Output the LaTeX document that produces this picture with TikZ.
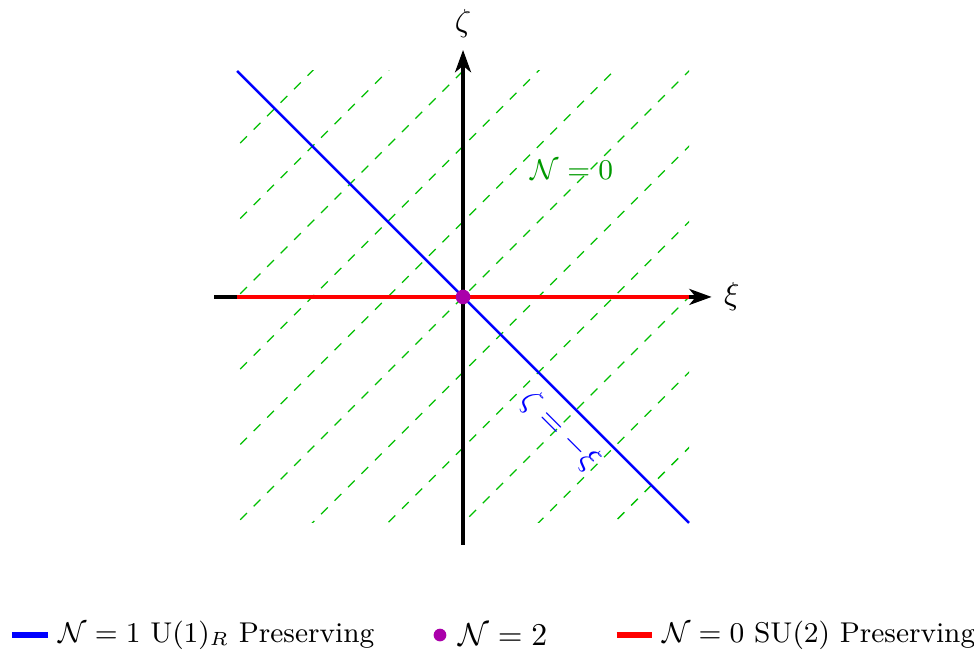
\documentclass[tikz,border=0pt]{standalone}
\usepackage{amsmath,amssymb}
\usetikzlibrary{arrows.meta,positioning}
\definecolor{ntwocol}{RGB}{170,0,170}
\begin{document}
\begin{tikzpicture}[x=2.5cm,y=2.5cm,
  axisline/.style={very thick,-{Stealth[length=7pt,width=5pt,inset=2pt]}},
  zeroline/.style={dashed,green!75!black},
  legline/.style={line width=1.6pt},
  legtext/.style={font=\small,inner sep=3pt},
  ntwodot/.style={circle,fill=ntwocol,inner sep=0pt}]
\useasboundingbox (-2.049,-1.562) rectangle (2.261,1.314);
% N=0 region
\begin{scope}
\clip (-1,-1) rectangle (1,1);
\foreach \c in {-5,...,5}{
  \draw[zeroline] (-2,-2+\c/3) -- (2,2+\c/3);}
\end{scope}
\node[text=green!60!black,font=\small] (nzero) at (0.482,0.562) {$\mathcal{N}=0$};
% axes
\coordinate (xiL) at (-1.1,0);
\coordinate (xiR) at (1.1,0);
\coordinate (zeB) at (0,-1.097);
\coordinate (zeT) at (0,1.093);
\draw[axisline] (xiL) -- (xiR) node[right] (xilab) {$\xi$};
\draw[axisline] (zeB) -- (zeT) node[above] (zelab) {$\zeta$};
% loci
\coordinate (redL) at (-1,0);
\coordinate (redR) at (1,0);
\draw[red,very thick] (redL) -- (redR);
\coordinate (blueT) at (-1,1);
\coordinate (blueB) at (1,-1);
\draw[blue,thick] (blueT) -- (blueB)
  node[pos=0.755,sloped,below,text=blue] (bluelab) {$\zeta=-\xi$};
\node[ntwodot,minimum size=4.6pt] (ntwo) at (0,0) {};
% legend
\coordinate (lgb1) at (-1.996,-1.496);
\coordinate (lgb2) at (-1.836,-1.496);
\draw[blue,legline] (lgb1) -- (lgb2);
\node[legtext,right=0pt of lgb2] (lgbtext) {$\mathcal{N}=1$ U$(1)_R$ Preserving};
\node[ntwodot,minimum size=4pt] (lgdot) at (-0.102,-1.496) {};
\node[right=0pt of lgdot] (lgdtext) {$\mathcal{N}=2$};
\coordinate (lgr1) at (0.68,-1.496);
\coordinate (lgr2) at (0.836,-1.496);
\draw[red,legline] (lgr1) -- (lgr2);
\node[legtext,right=0pt of lgr2] (lgrtext) {$\mathcal{N}=0$ SU$(2)$ Preserving};
\end{tikzpicture}
\end{document}
